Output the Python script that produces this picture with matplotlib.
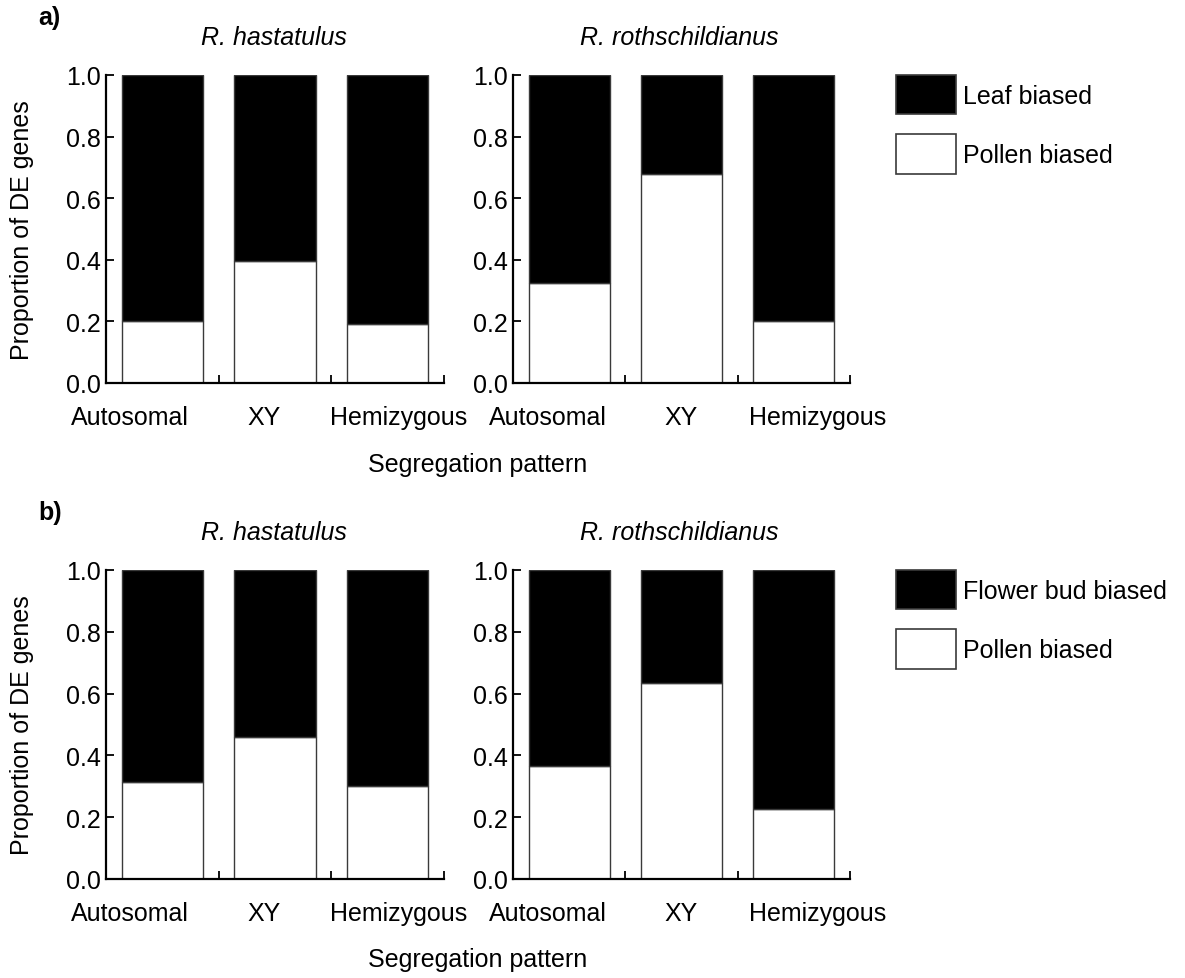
import matplotlib
matplotlib.use("Agg")
import matplotlib.pyplot as plt
from matplotlib.patches import Patch
import numpy as np

plt.rcParams['font.family'] = ['Liberation Sans', 'DejaVu Sans']

categories = ["Autosomal", "XY", "Hemizygous"]
species = ["R. hastatulus", "R. rothschildianus"]

# Panel a: proportion pollen biased (rest = leaf biased)
a_pollen_hastatulus = [0.20, 0.395, 0.19]
a_pollen_rothschildianus = [0.325, 0.68, 0.20]
# Panel b: proportion pollen biased (rest = flower bud biased)
b_pollen_hastatulus = [0.315, 0.46, 0.30]
b_pollen_rothschildianus = [0.365, 0.635, 0.225]

a_other_label = "Leaf biased"
b_other_label = "Flower bud biased"
pollen_label = "Pollen biased"
ylabel = "Proportion of DE genes"
xlabel = "Segregation pattern"
yticks = [0.0, 0.2, 0.4, 0.6, 0.8, 1.0]

W, H = 1185, 979
fig = plt.figure(figsize=(W / 100, H / 100), dpi=100)
FS = 18

def px_axes(x0, x1, ytop, ybot):
    return fig.add_axes([x0 / W, 1 - ybot / H, (x1 - x0) / W, (ybot - ytop) / H])

label_pos_left = [0.21, 1.40, 2.60]
label_pos_right = [0.31, 1.50, 2.71]

EDGE = "#3a3a3a"

def draw(ax, pollen, label_pos):
    pollen = np.array(pollen)
    x = np.arange(len(categories)) + 0.5
    ax.bar(x, pollen, width=0.72, color="white", edgecolor=EDGE, linewidth=1.0)
    ax.bar(x, 1 - pollen, bottom=pollen, width=0.72, color="black",
           edgecolor=EDGE, linewidth=1.0)
    ax.set_xlim(0, 3)
    ax.set_ylim(0, 1)
    for s in ["top", "right"]:
        ax.spines[s].set_visible(False)
    for s in ["left", "bottom"]:
        ax.spines[s].set_linewidth(1.6)
    ax.set_yticks(yticks)
    ax.set_yticklabels([f"{v:.1f}" for v in yticks], fontsize=FS)
    ax.tick_params(axis="y", direction="in", length=6, width=1.3, pad=4)
    ax.set_xticks([1, 2, 3], minor=True)
    ax.tick_params(axis="x", which="minor", direction="in", length=6, width=1.3)
    ax.set_xticks(label_pos)
    ax.set_xticklabels(categories, fontsize=FS)
    ax.tick_params(axis="x", which="major", length=0, pad=16)

panels = [
    (76, 384, a_pollen_hastatulus, a_pollen_rothschildianus, a_other_label, "a)", 0),
    (571, 880, b_pollen_hastatulus, b_pollen_rothschildianus, b_other_label, "b)", 495),
]

for ytop, ybot, ph, pr, other, tag, off in panels:
    axL = px_axes(106, 444, ytop, ybot)
    axR = px_axes(513, 850, ytop, ybot)
    draw(axL, ph, label_pos_left)
    draw(axR, pr, label_pos_right)
    axL.set_ylabel(ylabel, fontsize=FS)
    axL.yaxis.set_label_coords((34 - 106) / 338, 0.5)
    fig.text(274 / W, 1 - (38 + off) / H, species[0], style="italic",
             fontsize=FS, ha="center", va="center")
    fig.text(679 / W, 1 - (38 + off) / H, species[1], style="italic",
             fontsize=FS, ha="center", va="center")
    fig.text(38 / W, 1 - (18 + off) / H, tag, fontweight="bold",
             fontsize=FS, ha="left", va="center")
    fig.text(478 / W, 1 - (465 + off) / H, xlabel, fontsize=FS,
             ha="center", va="center")
    handles = [Patch(facecolor="black", edgecolor=EDGE, linewidth=1.2, label=other),
               Patch(facecolor="white", edgecolor=EDGE, linewidth=1.2, label=pollen_label)]
    fig.legend(handles=handles, loc="upper left",
               bbox_to_anchor=(896 / W, 1 - (76 + off) / H),
               frameon=False, fontsize=FS, handlelength=2.38, handleheight=2.05,
               labelspacing=0.8, handletextpad=0.3, borderpad=0, borderaxespad=0)

fig.savefig("out.png", dpi=100)
